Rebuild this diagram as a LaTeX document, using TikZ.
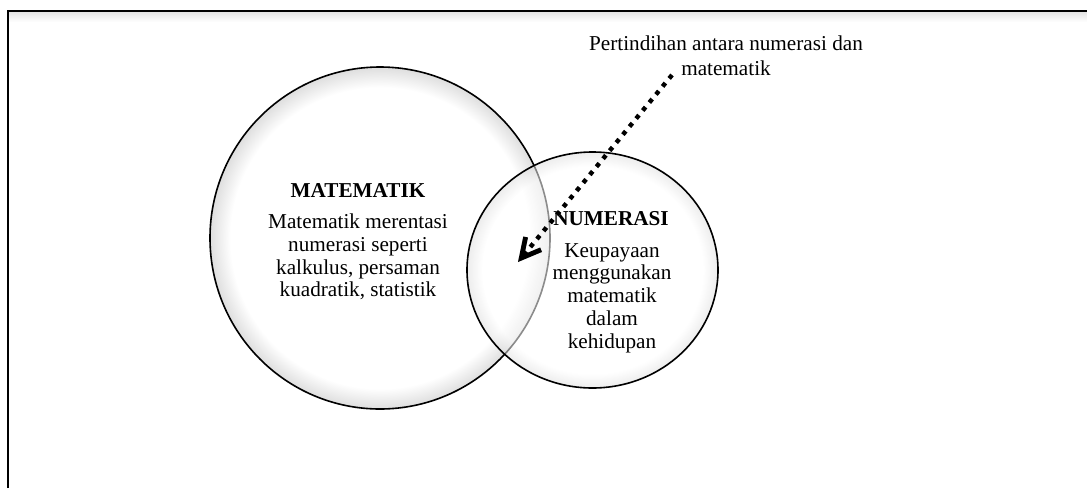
\documentclass[tikz,border=0pt]{standalone}
\usepackage{fontspec}
\setmainfont{Liberation Serif}
\usetikzlibrary{arrows.meta,shapes.geometric}
\definecolor{rimgray}{RGB}{222,222,222}
\definecolor{frameshade}{RGB}{228,228,228}
\pgfdeclareradialshading{rimglow}{\pgfpoint{0bp}{0bp}}{color(0bp)=(white);
  color(22bp)=(white); color(25bp)=(rimgray); color(50bp)=(rimgray)}

\begin{document}
\begin{tikzpicture}[
  x=0.5pt, y=-0.5pt,
  font=\fontsize{10.6}{11.4}\selectfont,
  setm/.style={ellipse, draw=black, line width=0.8pt, shading=rimglow,
    inner sep=0pt},
  ttl/.style={font=\fontsize{10.6}{11.4}\selectfont\bfseries, inner sep=0pt},
  bd/.style={align=center, inner sep=0pt},
  lbl/.style={align=center, inner sep=0pt,
    font=\fontsize{10.6}{12.5}\selectfont},
  ptr/.style={line width=2.2pt, dash pattern=on 2.2pt off 3pt,
    -{Straight Barb[length=9.5pt, width=10pt, line width=2.4pt]}},
  frm/.style={line width=1pt},
]
\useasboundingbox (0,0) rectangle (1087,488);
% frame
\shade[top color=frameshade, bottom color=white] (8,12) rectangle (1087,22);
\draw[frm] (8,488) -- (8,11) -- (1087,11);
% the two sets
\node[setm, minimum width=170pt, minimum height=171pt] (mat) at (380,238) {};
\node[setm, fill opacity=0.55, minimum width=125.5pt,
  minimum height=118pt] (num) at (592.5,270) {};
\node[ttl] (matt) at (358,190) {MATEMATIK};
\node[bd] (matb) at (358,257) {Matematik merentasi\\numerasi seperti\\
  kalkulus, persaman\\kuadratik, statistik};
\node[ttl] (numt) at (611,219) {NUMERASI};
\node[bd] (numb) at (612,298) {Keupayaan\\menggunakan\\matematik\\dalam\\
  kehidupan};
% overlap label and pointer
\node[lbl] (ovl) at (726,56) {Pertindihan antara numerasi dan\\matematik};
\coordinate (ptail) at (672,75);
\coordinate (phead) at (518,262);
\draw[ptr, black!22, xshift=1.2pt, yshift=-1.2pt] (ptail) -- (phead);
\draw[ptr] (ptail) -- (phead);
\end{tikzpicture}
\end{document}
